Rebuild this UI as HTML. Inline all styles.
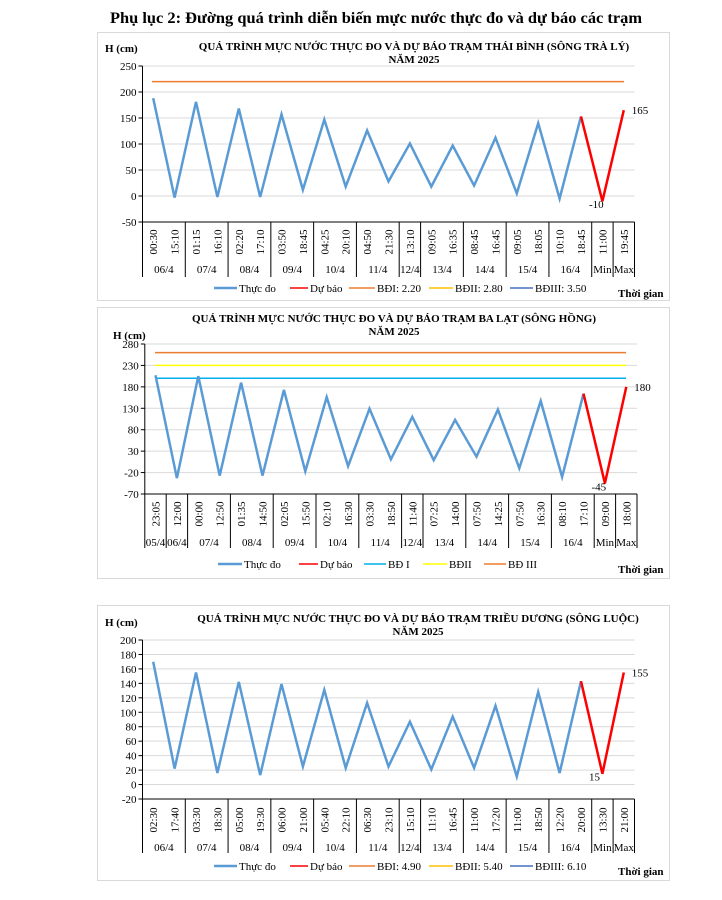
<!DOCTYPE html>
<html><head><meta charset="utf-8"><style>
body{margin:0;background:#fff;}
svg{display:block;font-family:"Liberation Serif","DejaVu Serif",serif;}
</style></head><body>
<svg id="s" width="722" height="900" xmlns="http://www.w3.org/2000/svg">
<text x="376" y="23" text-anchor="middle" font-size="15.5" font-weight="bold" textLength="532" lengthAdjust="spacingAndGlyphs">Phụ lục 2: Đường quá trình diễn biến mực nước thực đo và dự báo các trạm</text>
</svg>
<script>
var S=document.getElementById('s'),NS='http://www.w3.org/2000/svg';
function el(t,a,txt){var e=document.createElementNS(NS,t);for(var k in a)e.setAttribute(k,a[k]);if(txt!=null)e.textContent=txt;S.appendChild(e);return e;}
function chart(c){
 el('rect',{x:97.5,y:c.fy+0.5,width:572,height:c.fh,fill:'#fff',stroke:'#d9d9d9'});
 var L=c.L,R=c.R,n=c.times.length,w=(R-L)/n;
 function Y(v){return c.y0+(c.ymax-v)/(c.ymax-c.ymin)*(c.y1-c.y0);}
 for(var v=c.ymin;v<=c.ymax;v+=c.step){var y=Y(v);
  el('line',{x1:L,x2:R,y1:y,y2:y,stroke:'#d9d9d9','stroke-width':1});
  el('line',{x1:L-4,x2:L,y1:y,y2:y,stroke:'#000','stroke-width':1});
  el('text',{x:L-6,y:y+4,'font-size':11,'text-anchor':'end'},String(v));}
 el('line',{x1:L,x2:L,y1:c.y0,y2:c.y1,stroke:'#000'});
 el('line',{x1:L,x2:R,y1:c.y1,y2:c.y1,stroke:'#000'});
 c.hl.forEach(function(h){el('line',{x1:c.hx0,x2:c.hx1,y1:Y(h[0]),y2:Y(h[0]),stroke:h[1],'stroke-width':1.5});});
 var idx=0;el('line',{x1:L,x2:L,y1:c.y1,y2:c.bot,stroke:'#000'});
 c.days.forEach(function(d){var x0=L+idx*w;idx+=d[1];var x1=L+idx*w;
  el('line',{x1:x1,x2:x1,y1:c.y1,y2:c.bot,stroke:'#000'});
  el('text',{x:(x0+x1)/2,y:c.dy,'font-size':11,'text-anchor':'middle'},d[0]);});
 c.times.forEach(function(t,i){var x=L+(i+.5)*w;
  el('text',{x:0,y:0,'font-size':11,'text-anchor':'middle',transform:'translate('+(x+4)+','+c.ty+') rotate(-90)'},t);});
 var pts=c.vals.map(function(v,i){return (L+(i+.5)*w).toFixed(1)+','+Y(v).toFixed(1);});
 el('polyline',{points:pts.slice(0,n-2).join(' '),fill:'none',stroke:'#5B9BD5','stroke-width':2.5,'stroke-linejoin':'miter'});
 el('polyline',{points:pts.slice(n-3).join(' '),fill:'none',stroke:'#FF0000','stroke-width':2.5});
 el('text',{x:L+(n-2.5)*w+8,y:Y(c.vals[n-2])+7,'font-size':11},c.lmin);
 el('text',{x:L+(n-.5)*w+8,y:Y(c.vals[n-1])+4,'font-size':11},c.lmax);
 el('text',{x:c.tx,y:c.t1,'font-size':11,'font-weight':'bold','text-anchor':'middle'},c.title);
 el('text',{x:c.tx,y:c.t1+13,'font-size':11,'font-weight':'bold','text-anchor':'middle'},'NĂM 2025');
 el('text',{x:c.hx,y:c.hy,'font-size':11,'font-weight':'bold'},'H (cm)');
 c.leg.forEach(function(g){el('line',{x1:g[0],x2:g[1],y1:c.ly-4,y2:c.ly-4,stroke:g[3],'stroke-width':g[3]=='#5B9BD5'&&g[2]=='Thực đo'?2.5:1.5});
  el('text',{x:g[1]+2,y:c.ly,'font-size':11},g[2]);});
 el('text',{x:618,y:c.ly+5,'font-size':11,'font-weight':'bold'},'Thời gian');
}
var d1=[['06/4',2],['07/4',2],['08/4',2],['09/4',2],['10/4',2],['11/4',2],['12/4',1],['13/4',2],['14/4',2],['15/4',2],['16/4',2],['Min',1],['Max',1]];
chart({fy:32,fh:268,L:142.5,R:634.5,y0:66,y1:222,ymin:-50,ymax:250,step:50,bot:277,dy:273,ty:242,
 times:['00:30','15:10','01:15','16:10','02:20','17:10','03:50','18:45','04:25','20:10','04:50','21:30','13:10','09:05','16:35','08:45','16:45','09:05','18:05','10:10','18:45','11:00','19:45'],
 days:d1,vals:[188,-3,181,-2,168,-2,157,12,147,18,126,28,101,18,97,20,112,5,140,-5,153,-10,165],
 lmin:'-10',lmax:'165',hl:[[220,'#ED7D31']],hx0:152,hx1:624,
 title:'QUÁ TRÌNH MỰC NƯỚC THỰC ĐO VÀ DỰ BÁO TRẠM THÁI BÌNH (SÔNG TRÀ LÝ)',tx:414,t1:50,hx:105,hy:52,ly:292,
 leg:[[214,237,'Thực đo','#5B9BD5'],[290,308,'Dự báo','#FF0000'],[349,375,'BĐI: 2.20','#ED7D31'],[429,453,'BĐII: 2.80','#FFC000'],[510,533,'BĐIII: 3.50','#4472C4']]});
chart({fy:307,fh:271,L:144.8,R:637,y0:344,y1:494,ymin:-70,ymax:280,step:50,bot:548,dy:546,ty:514,
 times:['23:05','12:00','00:00','12:50','01:35','14:50','02:05','15:50','02:10','16:30','03:30','18:50','11:40','07:25','14:00','07:50','14:25','07:50','16:30','08:10','17:10','09:00','18:00'],
 days:[['05/4',1],['06/4',1]].concat(d1.slice(1)),vals:[207,-33,205,-27,190,-27,173,-17,156,-5,129,11,110,9,103,17,127,-10,147,-30,164,-45,180],
 lmin:'-45',lmax:'180',hl:[[260,'#ED7D31'],[230,'#FFFF00'],[200,'#00B0F0']],hx0:155,hx1:626,
 title:'QUÁ TRÌNH MỰC NƯỚC THỰC ĐO VÀ DỰ BÁO TRẠM BA LẠT (SÔNG HỒNG)',tx:394,t1:322,hx:113,hy:339,ly:568,
 leg:[[218,242,'Thực đo','#5B9BD5'],[299,318,'Dự báo','#FF0000'],[364,386,'BĐ I','#00B0F0'],[423,447,'BĐII','#FFFF00'],[484,506,'BĐ III','#ED7D31']]});
chart({fy:605,fh:275,L:142.5,R:634.5,y0:640,y1:799,ymin:-20,ymax:200,step:20,bot:853,dy:851,ty:820,
 times:['02:30','17:40','03:30','18:30','05:00','19:30','06:00','21:00','05:40','22:10','06:30','23:10','15:10','11:10','16:45','11:00','17:20','11:00','18:50','12:20','20:00','13:30','21:00'],
 days:d1,vals:[170,22,155,16,142,13,139,25,131,23,113,25,87,21,94,23,109,11,128,16,143,15,155],
 lmin:'15',lmax:'155',hl:[],hx0:0,hx1:0,
 title:'QUÁ TRÌNH MỰC NƯỚC THỰC ĐO VÀ DỰ BÁO TRẠM TRIỀU  DƯƠNG  (SÔNG LUỘC)',tx:418,t1:622,hx:105,hy:626,ly:870,
 leg:[[214,237,'Thực đo','#5B9BD5'],[290,308,'Dự báo','#FF0000'],[349,375,'BĐI: 4.90','#ED7D31'],[429,453,'BĐII: 5.40','#FFC000'],[510,533,'BĐIII: 6.10','#4472C4']]});
</script>
</body></html>
